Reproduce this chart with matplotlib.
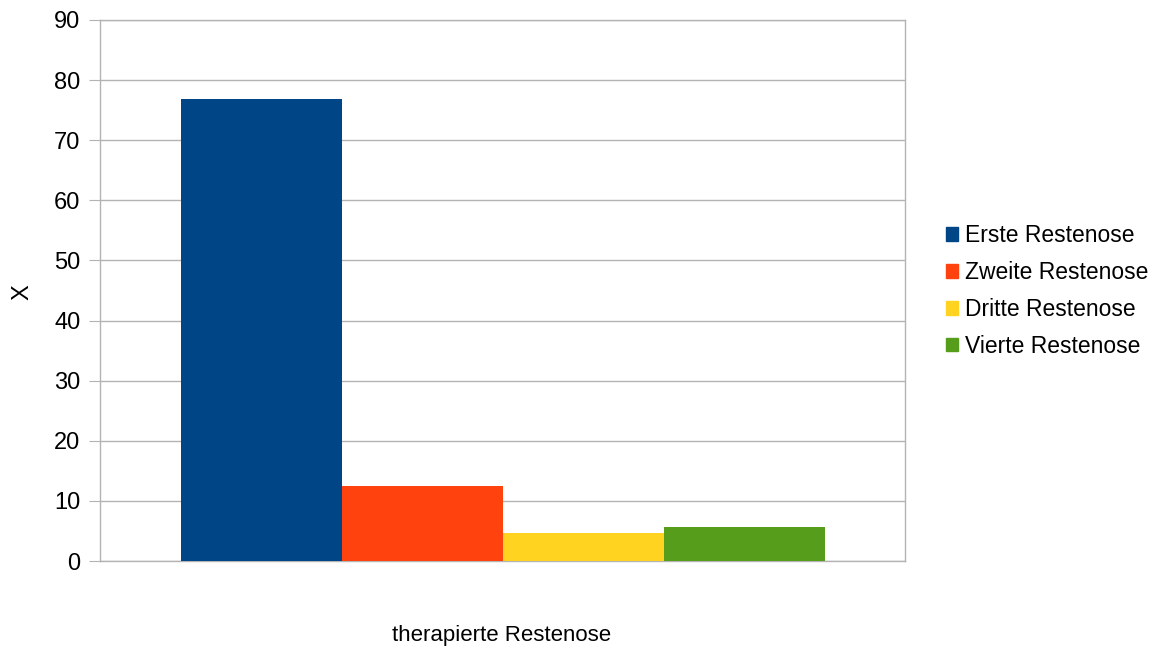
import matplotlib
matplotlib.use("Agg")
import matplotlib.pyplot as plt
from matplotlib.patches import Patch

plt.rcParams['font.family'] = ['Liberation Sans', 'DejaVu Sans']

series = ["Erste Restenose", "Zweite Restenose", "Dritte Restenose", "Vierte Restenose"]
values = [76.9, 12.5, 4.7, 5.7]
colors = ["#004586", "#ff420e", "#ffd320", "#579d1c"]
yticks = [0, 10, 20, 30, 40, 50, 60, 70, 80, 90]
xlabel = "therapierte Restenose"
ylabel = "X"

fig = plt.figure(figsize=(11.58, 6.52), dpi=100)
ax = fig.add_axes([100/1158, 1-561/652, 805/1158, 541/652])

width = 0.2
n = len(series)
for i, (s, v, c) in enumerate(zip(series, values, colors)):
    ax.bar((i - (n-1)/2) * width, v, width=width, color=c, label=s, zorder=3)

ax.set_xlim(-0.5, 0.5)
ax.set_ylim(0, 90)
ax.set_yticks(yticks)
ax.set_xticks([])
ax.yaxis.grid(True, color="#b3b3b3", linewidth=1, zorder=0)
for sp in ax.spines.values():
    sp.set_color("#b3b3b3")
    sp.set_linewidth(1)
ax.tick_params(axis='y', length=8, color="#b3b3b3", labelsize=17, pad=6)
fig.text(502/1158, 1-636/652, xlabel, fontsize=16, ha='center', va='center')
fig.text(22/1158, 1-292/652, ylabel, fontsize=17, ha='center', va='center', rotation=90)

handles = [Patch(color=c, label=s) for s, c in zip(series, colors)]
fig.legend(handles=handles, loc='center left', bbox_to_anchor=(925/1158, 1-291/652),
           frameon=False, fontsize=16.5, handlelength=0.55, handleheight=0.55,
           handletextpad=0.3, labelspacing=0.6)

fig.savefig("out.png", dpi=100)
